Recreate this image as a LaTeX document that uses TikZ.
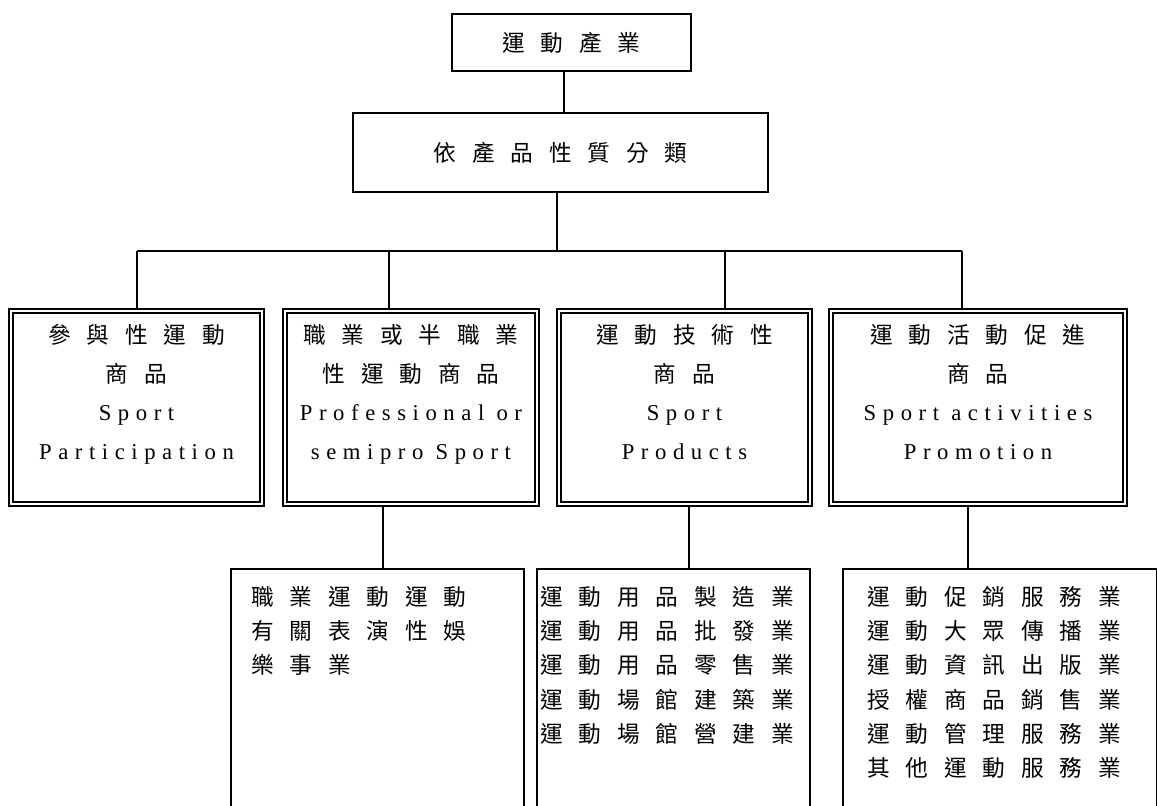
\documentclass[tikz,border=0pt]{standalone}
\usepackage{fontspec}
\setmainfont{Liberation Serif}
\newfontfamily\cjk[LetterSpace=70]{Noto Sans CJK TC}
\newfontfamily\spaced[LetterSpace=29]{Liberation Serif}

\tikzset{
  plainbox/.style={draw, line width=1.5pt, inner sep=0pt},
  catbox/.style={draw, line width=2.2pt, minimum height=147.75pt, inner sep=0pt},
  cattext/.style={anchor=north, align=center, inner sep=0pt, font=\fontsize{17}{29}\selectfont\cjk},
  listbox/.style={draw, line width=1.5pt, anchor=north west, minimum height=195pt, inner sep=0pt},
  listtext/.style={anchor=north west, align=left, inner sep=0pt, font=\fontsize{17}{25.7}\selectfont\cjk},
  link/.style={line width=1.5pt}
}

\begin{document}
\begin{tikzpicture}[x=0.75pt, y=-0.75pt]
\useasboundingbox (0,0) rectangle (1157,806);
\clip (0,0) rectangle (1157,806);

% top levels
\node[plainbox, minimum width=179.25pt, minimum height=42.75pt] (industry) at (571.5,42.5)
  {\fontsize{17}{20}\selectfont\cjk 運動產業};
\node[plainbox, minimum width=311.25pt, minimum height=59.25pt] (classify) at (560.5,152.5)
  {\fontsize{17}{20}\selectfont\cjk 依產品性質分類};

% four product classes
\node[catbox, minimum width=191.25pt] (part) at (136.5,407.5) {};
\node[catbox, minimum width=192pt] (pro) at (411,407.5) {};
\node[catbox, minimum width=191.25pt] (tech) at (684.5,407.5) {};
\node[catbox, minimum width=223.5pt] (promo) at (978,407.5) {};
\foreach \nm in {part, pro, tech, promo}
  \draw[line width=1.5pt] ([shift={(5,5)}]\nm.north west) rectangle ([shift={(-5,-5)}]\nm.south east);

\node[cattext] (parttxt) at ([yshift=-12.5pt]part.north)
  {參與性運動\\商品\\{\spaced Sport}\\{\spaced Participation}};
\node[cattext] (protxt) at ([yshift=-12.5pt]pro.north)
  {職業或半職業\\性運動商品\\{\spaced Professional or}\\{\spaced semipro Sport}};
\node[cattext] (techtxt) at ([yshift=-12.5pt]tech.north)
  {運動技術性\\商品\\{\spaced Sport}\\{\spaced Products}};
\node[cattext] (promotxt) at ([yshift=-12.5pt]promo.north)
  {運動活動促進\\商品\\{\spaced Sport activities}\\{\spaced Promotion}};

% industries under each class
\node[listbox, minimum width=219.75pt] (listA) at (230,568) {};
\node[listbox, minimum width=204.75pt] (listB) at (536,568) {};
\node[listbox, minimum width=235.5pt] (listC) at (842,568) {};

\node[listtext] (listAtxt) at (251,586)
  {職業運動運動\\有關表演性娛\\樂事業};
\node[listtext] (listBtxt) at (540,586)
  {運動用品製造業\\運動用品批發業\\運動用品零售業\\運動場館建築業\\運動場館營建業};
\node[listtext] (listCtxt) at (867,586)
  {運動促銷服務業\\運動大眾傳播業\\運動資訊出版業\\授權商品銷售業\\運動管理服務業\\其他運動服務業};

% connectors
\coordinate (fork) at (557,251);
\coordinate (forkL) at (137,251);
\coordinate (forkR) at (962,251);
\draw[link] ([xshift=-5.6pt]industry.south) -- ([xshift=-5.6pt]industry.south |- classify.north);
\draw[link] (classify.south -| fork) -- (fork);
\draw[link] (forkL) -- (forkR);
\foreach \nm/\x in {part/137, pro/389, tech/725, promo/962}
  \draw[link] (\nm.north -| \x,0) -- (fork -| \x,0);
\foreach \up/\down/\x in {pro/listA/383, tech/listB/689, promo/listC/968}
  \draw[link] (\up.south -| \x,0) -- (\down.north -| \x,0);
\end{tikzpicture}
\end{document}
